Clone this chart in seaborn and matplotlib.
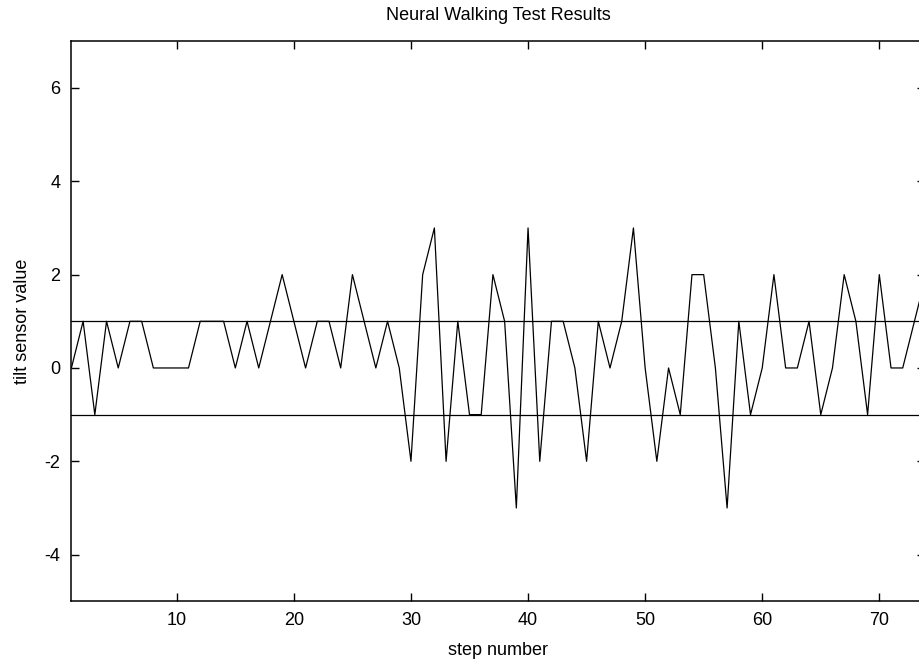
import numpy as np
import pandas as pd
import seaborn as sns
import matplotlib
matplotlib.use("Agg")
import matplotlib.pyplot as plt

# 数据：步数与倾斜传感器读数
steps = list(range(1, 75))
tilt = [0, 1, -1, 1, 0, 1, 1, 0, 0, 0,
        0, 1, 1, 1, 0, 1, 0, 1, 2, 1,
        0, 1, 1, 0, 2, 1, 0, 1, 0, -2,
        2, 3, -2, 1, -1, -1, 2, 1, -3, 3,
        -2, 1, 1, 0, -2, 1, 0, 1, 3, 0,
        -2, 0, -1, 2, 2, 0, -3, 1, -1, 0,
        2, 0, 0, 1, -1, 0, 2, 1, -1, 2,
        0, 0, 1, 2]
thresholds = [1, -1]

df = pd.DataFrame({"step number": steps, "tilt sensor value": tilt})

sns.set_theme(style="ticks")
plt.rcParams['font.family'] = ['Liberation Sans', 'DejaVu Sans']
plt.rcParams['font.size'] = 13
plt.rcParams['axes.unicode_minus'] = False
plt.rcParams['text.color'] = 'black'
plt.rcParams['axes.labelcolor'] = 'black'
plt.rcParams['xtick.color'] = 'black'
plt.rcParams['ytick.color'] = 'black'

fig = plt.figure(figsize=(9.19, 6.62), dpi=100)
ax = fig.add_axes([0.0777, 0.0917, 0.9288, 0.8459])

sns.lineplot(data=df, x="step number", y="tilt sensor value", ax=ax,
             color="black", linewidth=0.9)
for t in thresholds:
    ax.axhline(t, color="black", linewidth=0.9)

ax.set_xlim(1, 73.9)
ax.set_ylim(-5, 7)
ax.set_xticks([10, 20, 30, 40, 50, 60, 70])
ax.set_yticks([-4, -2, 0, 2, 4, 6])
ax.tick_params(direction="in", length=6, width=1, top=True, right=True,
               labelsize=13, pad=8, color="black", labelcolor="black")
for s in ax.spines.values():
    s.set_visible(True)
    s.set_linewidth(1.1)
    s.set_color("black")

ax.set_title("Neural Walking Test Results", fontsize=13, pad=15.5, color="black")
ax.set_xlabel("step number", fontsize=13, labelpad=9)
ax.set_ylabel("tilt sensor value", fontsize=13, labelpad=10)

fig.savefig("out.png", dpi=100)
plt.close(fig)
